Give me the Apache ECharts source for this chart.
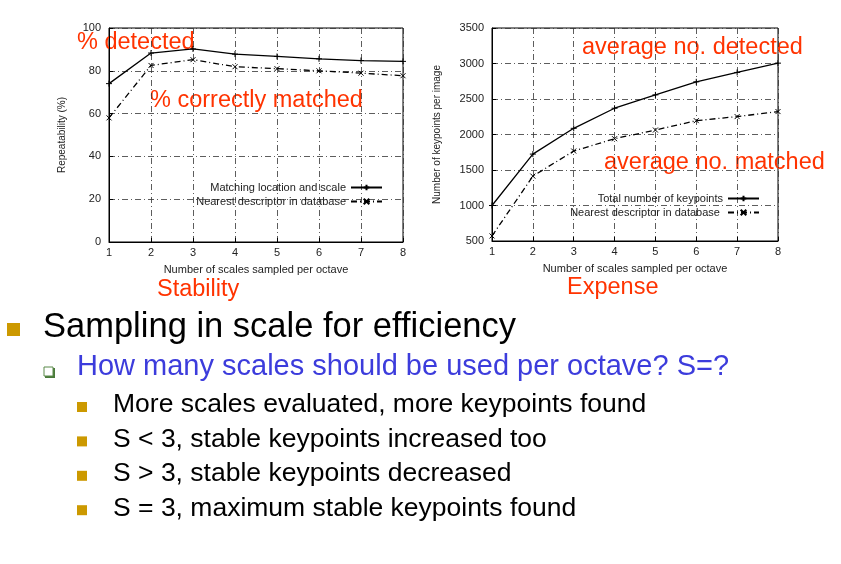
<!DOCTYPE html>
<html>
<head>
<meta charset="utf-8">
<script src="https://cdn.jsdelivr.net/npm/echarts@6/dist/echarts.min.js"></script>
<style>
  html, body { margin: 0; padding: 0; background: #fff; }
  #main { width: 841px; height: 564px; }
</style>
</head>
<body>
<div id="main"></div>
<script>
// 横轴：每个八度采样的尺度数
var scales = [1, 2, 3, 4, 5, 6, 7, 8];
// 左图：可重复性 (%)
var matchLoc = [74, 88.3, 90.2, 87.8, 86.7, 85.6, 84.8, 84.4];
var nearestPct = [58, 82.5, 85.2, 81.9, 81, 80, 78.9, 77.7];
// 右图：每幅图的关键点数
var totalKp = [1000, 1724, 2087, 2370, 2558, 2742, 2874, 3005];
var nearestKp = [571, 1414, 1767, 1941, 2063, 2195, 2252, 2323];

var leftNames = ['Matching location and scale', 'Nearest descriptor in database'];
var rightNames = ['Total number of keypoints', 'Nearest descriptor in database '];

var notes = [
  { text: '% detected', x: 77, y: 43 },
  { text: '% correctly matched', x: 150, y: 101 },
  { text: 'Stability', x: 157, y: 290 },
  { text: 'average no. detected', x: 582, y: 48 },
  { text: 'average no. matched', x: 604, y: 163 },
  { text: 'Expense', x: 567, y: 288 }
];
var subBullets = [
  'More scales evaluated, more keypoints found',
  'S < 3, stable keypoints increased too',
  'S > 3, stable keypoints decreased',
  'S = 3, maximum stable keypoints found'
];

var plus = 'path://M0,5L10,5M5,0L5,10';
var cross = 'path://M0,0L10,10M10,0L0,10';
var dashDot = [6, 3, 1, 3];
var font = 'Liberation Sans, Arial, sans-serif';

function pairs(xs, ys) {
  return xs.map(function (x, i) { return [x, ys[i]]; });
}

function xAxisCfg(idx) {
  return {
    type: 'value', gridIndex: idx, min: 1, max: 8, interval: 1,
    name: 'Number of scales sampled per octave',
    nameLocation: 'middle', nameGap: 22,
    nameTextStyle: { fontSize: 11, color: '#222', fontFamily: font },
    axisLine: { show: true, lineStyle: { color: '#000', width: 1 } },
    axisTick: { show: true, inside: true, length: 4, lineStyle: { color: '#000' } },
    axisLabel: { fontSize: 11, color: '#222', margin: 5, fontFamily: font },
    splitLine: { show: true, lineStyle: { color: '#333', width: 0.8, type: dashDot } }
  };
}

function yAxisCfg(idx, min, max, step, name, gap) {
  return {
    type: 'value', gridIndex: idx, min: min, max: max, interval: step,
    name: name, nameLocation: 'middle', nameGap: gap,
    nameTextStyle: { fontSize: 10, color: '#222', fontFamily: font },
    axisLine: { show: true, lineStyle: { color: '#000', width: 1 } },
    axisTick: { show: true, inside: true, length: 4, lineStyle: { color: '#000' } },
    axisLabel: { fontSize: 11, color: '#222', margin: 8, fontFamily: font,
      formatter: function (v) { return String(v); } },
    splitLine: { show: true, lineStyle: { color: '#333', width: 0.8, type: dashDot } }
  };
}

function lineSeries(name, idx, data, sym, dashed) {
  return {
    name: name, type: 'line', xAxisIndex: idx, yAxisIndex: idx,
    data: data, symbol: sym, symbolSize: dashed ? 5 : 6, showSymbol: true,
    lineStyle: { color: '#000', width: 1.3, type: dashed ? dashDot : 'solid' },
    itemStyle: { color: '#000', borderColor: '#000', borderWidth: 1 },
    animation: false
  };
}

var graphics = [];
notes.forEach(function (n) {
  graphics.push({
    type: 'text', x: n.x, y: n.y,
    style: { text: n.text, fill: '#ff3300', font: '23.5px ' + font, verticalAlign: 'middle' }
  });
});

// 一级要点
graphics.push({ type: 'rect', shape: { x: 7, y: 323, width: 13, height: 13 }, style: { fill: '#cc9900' } });
graphics.push({
  type: 'text', x: 43, y: 327,
  style: { text: 'Sampling in scale for efficiency', fill: '#000', font: '34.5px ' + font, verticalAlign: 'middle' }
});
// 二级要点
graphics.push({ type: 'rect', shape: { x: 45, y: 368, width: 10, height: 10 }, style: { fill: '#4a7a3a' } });
graphics.push({ type: 'rect', shape: { x: 44, y: 367, width: 9, height: 9 }, style: { fill: '#fff', stroke: '#5a8a4a', lineWidth: 1 } });
graphics.push({
  type: 'text', x: 77, y: 367,
  style: { text: 'How many scales should be used per octave? S=?', fill: '#3c3cdc', font: '29px ' + font, verticalAlign: 'middle' }
});
// 三级要点
subBullets.forEach(function (t, i) {
  var cy = 405 + i * 34.4;
  graphics.push({ type: 'rect', shape: { x: 77, y: cy - 3, width: 10, height: 10 }, style: { fill: '#cc9900' } });
  graphics.push({
    type: 'text', x: 113, y: cy,
    style: { text: t, fill: '#000', font: '26.5px ' + font, verticalAlign: 'middle' }
  });
});

var option = {
  backgroundColor: '#fff',
  animation: false,
  textStyle: { fontFamily: font },
  grid: [
    { left: 109, right: 438, top: 28, bottom: 322, show: true, borderColor: '#000', borderWidth: 1 },
    { left: 492, right: 63, top: 28, bottom: 323, show: true, borderColor: '#000', borderWidth: 1 }
  ],
  xAxis: [xAxisCfg(0), xAxisCfg(1)],
  yAxis: [
    yAxisCfg(0, 0, 100, 20, 'Repeatability (%)', 42),
    yAxisCfg(1, 500, 3500, 500, 'Number of keypoints per image', 50)
  ],
  legend: [
    {
      data: leftNames, orient: 'vertical', align: 'right', right: 458, top: 182,
      itemWidth: 31, itemHeight: 7, itemGap: 3, padding: 0,
      textStyle: { fontSize: 11, color: '#222', fontFamily: font }
    },
    {
      data: rightNames, orient: 'vertical', align: 'right', right: 81, top: 193,
      itemWidth: 31, itemHeight: 7, itemGap: 3, padding: 0,
      textStyle: { fontSize: 11, color: '#222', fontFamily: font }
    }
  ],
  series: [
    lineSeries(leftNames[0], 0, pairs(scales, matchLoc), plus, false),
    lineSeries(leftNames[1], 0, pairs(scales, nearestPct), cross, true),
    lineSeries(rightNames[0], 1, pairs(scales, totalKp), plus, false),
    lineSeries(rightNames[1], 1, pairs(scales, nearestKp), cross, true)
  ],
  graphic: graphics
};

var myChart = echarts.init(document.getElementById('main'));
myChart.setOption(option);
</script>
</body>
</html>
